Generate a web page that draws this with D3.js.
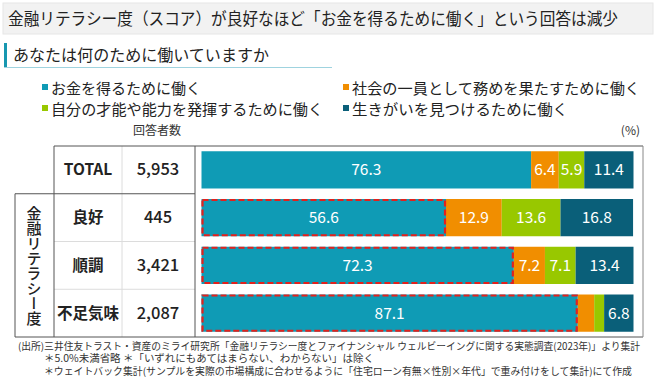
<!DOCTYPE html>
<html><head><meta charset="utf-8">
<script src="https://cdn.jsdelivr.net/npm/d3@7"></script>
<style>
html,body{margin:0;padding:0;background:#fff;}
svg{display:block;font-family:"Noto Sans CJK JP","Noto Sans",sans-serif;}
</style></head>
<body>
<script>
const title = "金融リテラシー度（スコア）が良好なほど「お金を得るために働く」という回答は減少";
const subtitle = "あなたは何のために働いていますか";
const categories = ["TOTAL", "良好", "順調", "不足気味"];
const counts = ["5,953", "445", "3,421", "2,087"];
const seriesNames = ["お金を得るために働く", "社会の一員として務めを果たすために働く", "自分の才能や能力を発揮するために働く", "生きがいを見つけるために働く"];
const money   = [76.3, 56.6, 72.3, 87.1];
const society = [6.4, 12.9, 7.2, 3.8];
const talent  = [5.9, 13.6, 7.1, 2.3];
const purpose = [11.4, 16.8, 13.4, 6.8];
const groupLabel = "金融リテラシー度";
const countHeader = "回答者数";
const unitLabel = "(%)";
const notes = [
  "(出所)三井住友トラスト・資産のミライ研究所「金融リテラシー度とファイナンシャル ウェルビーイングに関する実態調査(2023年)」より集計",
  "＊5.0%未満省略 ＊「いずれにもあてはまらない、わからない」は除く",
  "＊ウェイトバック集計(サンプルを実際の市場構成に合わせるように「住宅ローン有無×性別×年代」で重み付けをして集計)にて作成"
];
const colors = ["#0f9bb5", "#f18e00", "#98c800", "#0a5f79"];

const W = 660, H = 387;
const svg = d3.select("body").append("svg").attr("width", W).attr("height", H);

// Title box
svg.append("rect").attr("x", 3).attr("y", 3).attr("width", 650).attr("height", 31).attr("fill", "#f2f2f2").attr("stroke", "#e6e6e6");
svg.append("text").attr("x", 8).attr("y", 24.5).attr("font-size", 16.5).attr("fill", "#222")
  .attr("textLength", 610).attr("lengthAdjust", "spacingAndGlyphs").text(title);

// Subtitle
svg.append("rect").attr("x", 4).attr("y", 43).attr("width", 3).attr("height", 24).attr("fill", "#1797b0");
svg.append("line").attr("x1", 4).attr("x2", 332).attr("y1", 67.5).attr("y2", 67.5).attr("stroke", "#9fd3df").attr("stroke-width", 1);
svg.append("text").attr("x", 13).attr("y", 61).attr("font-size", 16).attr("fill", "#222")
  .attr("textLength", 256).attr("lengthAdjust", "spacingAndGlyphs").text(subtitle);

// Legend
const legPos = [[42, 88], [343, 88], [42, 109], [343, 109]];
const legW = [150, 288, 272, 216];
seriesNames.forEach((n, i) => {
  const [lx, ly] = legPos[i];
  svg.append("rect").attr("x", lx).attr("y", ly - 4).attr("width", 6).attr("height", 6).attr("fill", colors[i]);
  svg.append("text").attr("x", lx + 9).attr("y", ly + 5.5).attr("font-size", 15).attr("fill", "#222")
    .attr("textLength", legW[i]).attr("lengthAdjust", "spacingAndGlyphs").text(n);
});

svg.append("text").attr("x", 157).attr("y", 135).attr("text-anchor", "middle").attr("font-size", 12).attr("fill", "#333").text(countHeader);
svg.append("text").attr("x", 640).attr("y", 135).attr("text-anchor", "end").attr("font-size", 12).attr("fill", "#333").text(unitLabel);

// Scales
const x = d3.scaleLinear().domain([0, 100]).range([201.5, 633.5]);
const y = d3.scaleBand().domain(categories).range([146, 337]).paddingInner(0.22).paddingOuter(0.11);
const step = y.step();
const tTop = 146, tBottom = 337;
const rowTop = c => y(c) - y.paddingOuter() * step;

// Table lines
const tbl = svg.append("g");
const dark = "#555", light = "#dcdcdc";
categories.slice(2).forEach(c => {
  const yy = rowTop(c);
  tbl.append("line").attr("x1", 54).attr("x2", 195).attr("y1", yy).attr("y2", yy).attr("stroke", light);
});
tbl.append("line").attr("x1", 122).attr("x2", 122).attr("y1", tTop).attr("y2", tBottom).attr("stroke", light);
const l = (x1, y1, x2, y2) => tbl.append("line").attr("x1", x1).attr("y1", y1).attr("x2", x2).attr("y2", y2).attr("stroke", dark).attr("stroke-width", 1);
const r1 = rowTop(categories[1]);
l(54, tTop, 643, tTop);
l(54, tTop, 54, tBottom);
l(15, r1, 195, r1);
l(15, r1, 15, tBottom);
l(15, tBottom, 643, tBottom);
l(195, tTop, 195, tBottom);
tbl.append("line").attr("x1", 643).attr("x2", 643).attr("y1", tTop).attr("y2", tBottom).attr("stroke", "#888");

// Table text
categories.forEach((c, i) => {
  const cy = y(c) + y.bandwidth() / 2 + 5.5;
  svg.append("text").attr("x", 88).attr("y", cy).attr("text-anchor", "middle").attr("font-size", 15.5)
    .attr("font-weight", "bold").attr("fill", "#222").text(c);
  svg.append("text").attr("x", 158).attr("y", cy).attr("text-anchor", "middle").attr("font-size", 16.5)
    .attr("font-weight", 500).attr("fill", "#222").text(counts[i]);
});

// Vertical group label
svg.append("text").attr("x", 34).attr("y", (r1 + tBottom) / 2).attr("text-anchor", "middle")
  .attr("dominant-baseline", "central")
  .style("writing-mode", "vertical-rl").style("text-orientation", "upright")
  .attr("font-size", 15).attr("fill", "#222").attr("font-weight", 500).text(groupLabel);

// Bars
const seriesData = [money, society, talent, purpose];
const rows = categories.map((c, i) => {
  let acc = 0;
  return seriesData.map((s, k) => {
    const seg = {cat: c, k, v: s[i], x0: acc, x1: acc + s[i]};
    acc += s[i];
    return seg;
  });
});
const g = svg.append("g");
rows.forEach(segs => {
  g.selectAll(null).data(segs).enter().append("rect")
    .attr("x", d => x(d.x0)).attr("width", d => x(d.x1) - x(d.x0))
    .attr("y", d => y(d.cat)).attr("height", y.bandwidth())
    .attr("fill", d => colors[d.k]);
  g.selectAll(null).data(segs.filter(d => d.v >= 5)).enter().append("text")
    .attr("x", d => (x(d.x0) + x(d.x1)) / 2).attr("y", d => y(d.cat) + y.bandwidth() / 2 + 5.5)
    .attr("text-anchor", "middle").attr("font-size", 15.5).attr("fill", "#fff")
    .text(d => d.v.toFixed(1));
});

// Red dashed highlight around money segment for literacy rows
categories.slice(1).forEach((c, j) => {
  const i = j + 1;
  svg.append("rect").attr("x", x(0) + 1).attr("y", y(c) + 1)
    .attr("width", x(money[i]) - x(0) - 2).attr("height", y.bandwidth() - 2)
    .attr("fill", "none").attr("stroke", "#e3211c").attr("stroke-width", 2.2).attr("stroke-dasharray", "6,3");
});

// Footnotes
const noteX = [18, 44, 44], noteY = [349.5, 362, 374.5], noteW = [622, 330, 588];
notes.forEach((t, i) => {
  svg.append("text").attr("x", noteX[i]).attr("y", noteY[i]).attr("font-size", 10).attr("fill", "#333")
    .attr("textLength", noteW[i]).attr("lengthAdjust", "spacingAndGlyphs").text(t);
});
</script>
</body></html>
